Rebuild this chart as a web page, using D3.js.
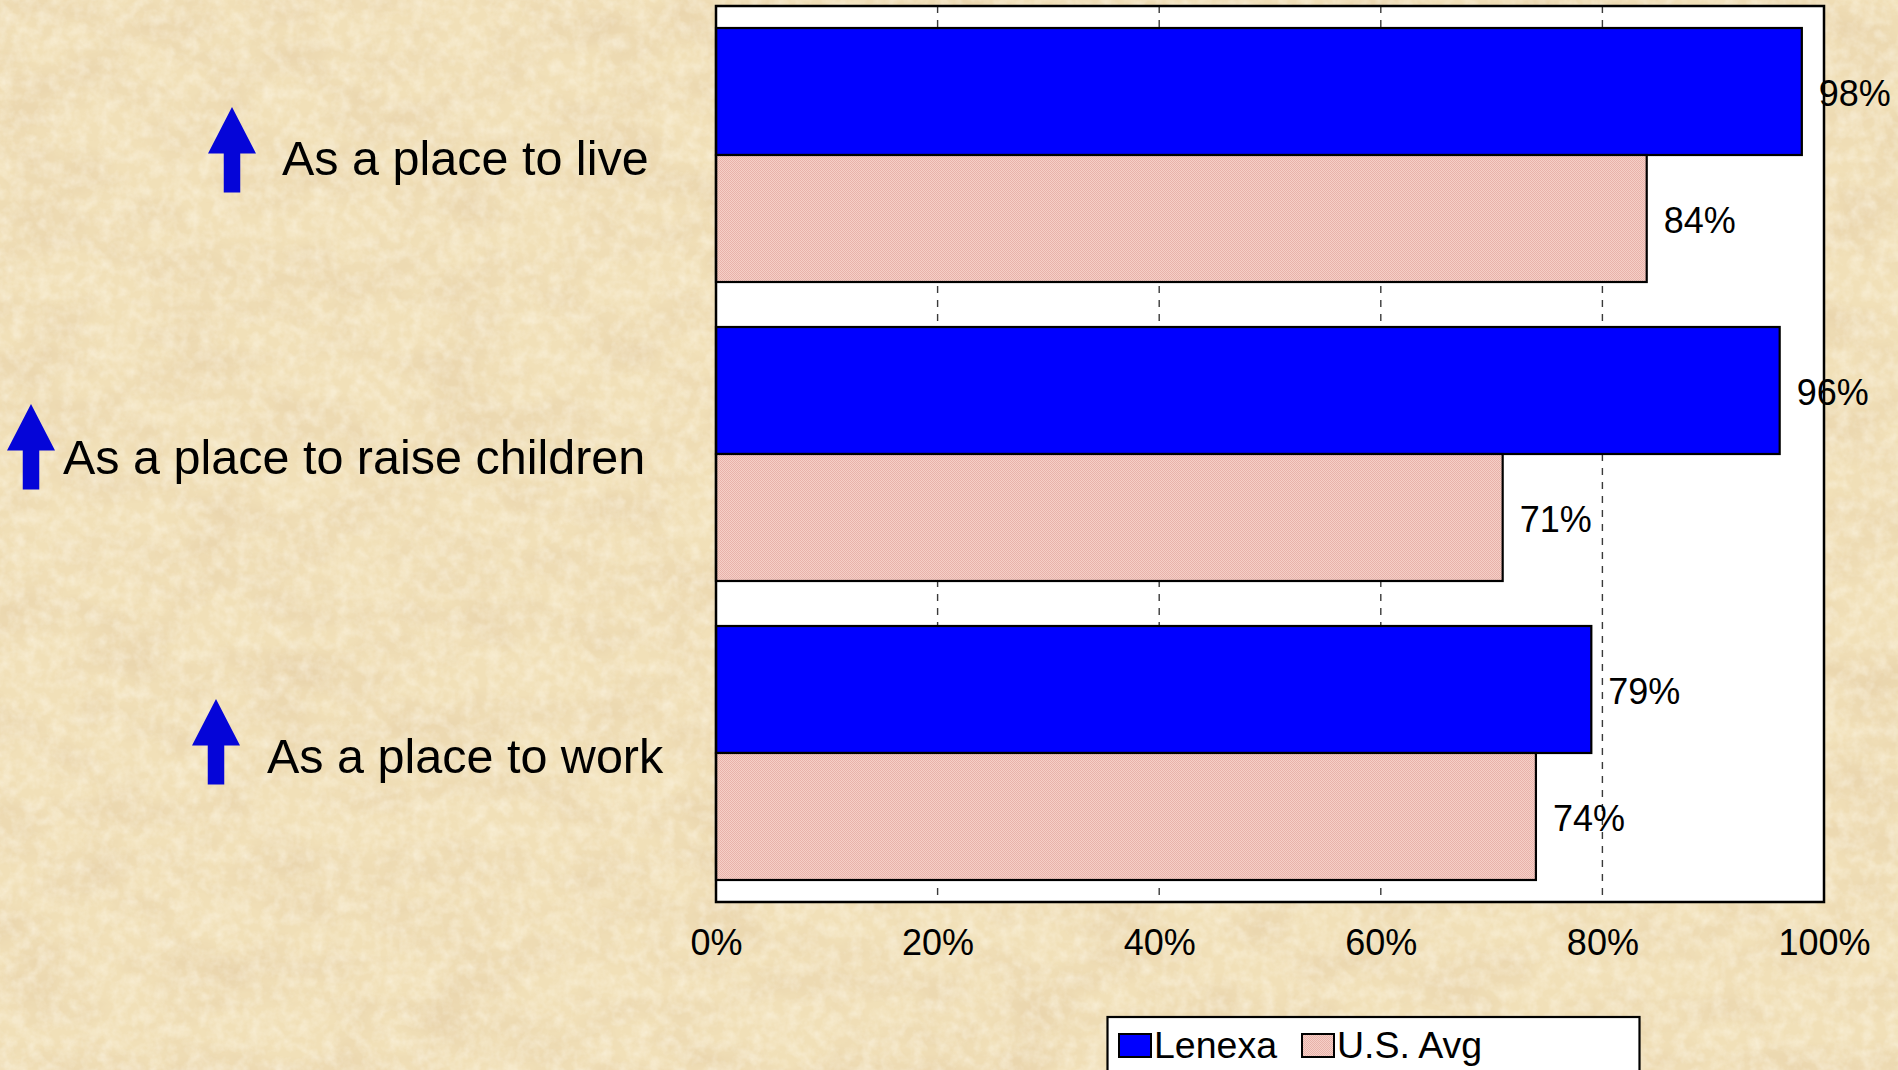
<!DOCTYPE html>
<html>
<head>
<meta charset="utf-8">
<script src="https://cdn.jsdelivr.net/npm/d3@7"></script>
<style>
  html, body { margin: 0; padding: 0; background: #EEDCB3; overflow: hidden; }
  svg { display: block; }
  text { font-family: "Liberation Sans", Arial, Helvetica, sans-serif; fill: #000; }
</style>
</head>
<body>
<svg id="chart" width="1898" height="1070"></svg>
<script>
// ---- data ----
const categories = ["As a place to live", "As a place to raise children", "As a place to work"];
const seriesNames = ["Lenexa", "U.S. Avg"];
const lenexaValues = [0.98, 0.96, 0.79];
const usAvgValues = [0.84, 0.71, 0.74];
const tickValues = [0, 0.2, 0.4, 0.6, 0.8, 1.0];
const tickLabels = ["0%", "20%", "40%", "60%", "80%", "100%"];
const gridValues = [0.2, 0.4, 0.6, 0.8];

// ---- layout ----
const W = 1898, H = 1070;
const plot = { x0: 716, x1: 1824, y0: 6, y1: 902 };
const catLayout = [
  { textX: 282, arrowX: 208, arrowDy: -48 },
  { textX: 63,  arrowX: 7,   arrowDy: -50 },
  { textX: 267, arrowX: 192, arrowDy: -54 }
];

const svg = d3.select("#chart");
const defs = svg.append("defs");

// parchment texture
const f = defs.append("filter").attr("id", "paper")
  .attr("x", 0).attr("y", 0).attr("width", "100%").attr("height", "100%")
  .attr("filterUnits", "userSpaceOnUse");
f.append("feTurbulence").attr("type", "fractalNoise")
  .attr("baseFrequency", "0.012 0.02").attr("numOctaves", 5).attr("seed", 7).attr("result", "n");
f.append("feColorMatrix").attr("in", "n").attr("type", "matrix")
  .attr("values", "0 0 0 0 0.80  0 0 0 0 0.64  0 0 0 0 0.40  1.6 0 0 0 -0.62");
const g2 = defs.append("filter").attr("id", "grain")
  .attr("x", 0).attr("y", 0).attr("width", "100%").attr("height", "100%")
  .attr("filterUnits", "userSpaceOnUse");
g2.append("feTurbulence").attr("type", "fractalNoise")
  .attr("baseFrequency", "0.08").attr("numOctaves", 3).attr("seed", 3).attr("result", "n");
g2.append("feColorMatrix").attr("in", "n").attr("type", "matrix")
  .attr("values", "0 0 0 0 1  0 0 0 0 0.97  0 0 0 0 0.88  1.4 0 0 0 -0.5");

// pink dotted fill
const pat = defs.append("pattern").attr("id", "pinkFill")
  .attr("patternUnits", "userSpaceOnUse").attr("width", 2).attr("height", 2);
pat.append("rect").attr("width", 2).attr("height", 2).attr("fill", "#F6D0C8");
pat.append("rect").attr("x", 0).attr("y", 0).attr("width", 1).attr("height", 1).attr("fill", "#E8B2AA");
pat.append("rect").attr("x", 1).attr("y", 1).attr("width", 1).attr("height", 1).attr("fill", "#E8B2AA");

svg.append("rect").attr("width", W).attr("height", H).attr("fill", "#F1E0B8");
svg.append("rect").attr("width", W).attr("height", H).attr("filter", "url(#paper)");
svg.append("rect").attr("width", W).attr("height", H).attr("filter", "url(#grain)").attr("opacity", 0.6);

// ---- scales ----
const x = d3.scaleLinear().domain([0, 1]).range([plot.x0, plot.x1]);
const y = d3.scaleBand().domain(categories).range([plot.y0, plot.y1])
  .paddingInner(0.1505).paddingOuter(0.0736);
const ys = d3.scaleBand().domain(seriesNames).range([0, y.bandwidth()]);
const fills = { "Lenexa": "#0000FF", "U.S. Avg": "url(#pinkFill)" };

const rows = [];
categories.forEach((c, i) => {
  rows.push({ cat: c, series: "Lenexa", value: lenexaValues[i] });
  rows.push({ cat: c, series: "U.S. Avg", value: usAvgValues[i] });
});

// plot background
svg.append("rect").attr("x", plot.x0).attr("y", plot.y0)
  .attr("width", plot.x1 - plot.x0).attr("height", plot.y1 - plot.y0).attr("fill", "#fff");

// gridlines
svg.append("g").selectAll("line").data(gridValues).join("line")
  .attr("x1", d => x(d)).attr("x2", d => x(d))
  .attr("y1", plot.y0).attr("y2", plot.y1)
  .attr("stroke", "#3a3a3a").attr("stroke-width", 1.4).attr("stroke-dasharray", "7,7");

// bars
svg.append("g").selectAll("rect").data(rows).join("rect")
  .attr("x", x(0))
  .attr("y", d => y(d.cat) + ys(d.series))
  .attr("width", d => x(d.value) - x(0))
  .attr("height", ys.bandwidth())
  .attr("fill", d => fills[d.series])
  .attr("stroke", "#000").attr("stroke-width", 2.2);

// frame
svg.append("rect").attr("x", plot.x0).attr("y", plot.y0)
  .attr("width", plot.x1 - plot.x0).attr("height", plot.y1 - plot.y0)
  .attr("fill", "none").attr("stroke", "#000").attr("stroke-width", 2.5);

// value labels
svg.append("g").selectAll("text").data(rows).join("text")
  .attr("x", d => x(d.value) + 17)
  .attr("y", d => y(d.cat) + ys(d.series) + ys.bandwidth() / 2 + 2)
  .attr("dy", "0.36em")
  .attr("font-size", 36)
  .text(d => Math.round(d.value * 100) + "%");

// x axis labels
const axis = d3.axisBottom(x).tickValues(tickValues)
  .tickFormat((d, i) => tickLabels[i]).tickSize(0).tickPadding(27);
const ax = svg.append("g").attr("transform", `translate(0,${plot.y1})`).call(axis);
ax.select(".domain").remove();
ax.selectAll("text").attr("font-size", 36)
  .attr("font-family", "'Liberation Sans', Arial, sans-serif").attr("fill", "#000");

// category labels + arrows
const arrowW = 48, headH = 46.5, shaftW = 16.5, arrowH = 85.6;
categories.forEach((c, i) => {
  const cy = y(c) + y.bandwidth() / 2;
  const L = catLayout[i];
  svg.append("text").attr("x", L.textX).attr("y", cy + 2.5).attr("dy", "0.36em")
    .attr("font-size", 48.5).text(c);
  const ax0 = L.arrowX, top = cy + L.arrowDy, cx = ax0 + arrowW / 2;
  const pts = [
    [cx, top], [ax0 + arrowW, top + headH], [cx + shaftW / 2, top + headH],
    [cx + shaftW / 2, top + arrowH], [cx - shaftW / 2, top + arrowH],
    [cx - shaftW / 2, top + headH], [ax0, top + headH]
  ];
  svg.append("path").attr("d", d3.line()(pts) + "Z").attr("fill", "#0505D8");
});

// legend
const lg = svg.append("g");
lg.append("rect").attr("x", 1107.5).attr("y", 1017).attr("width", 532).attr("height", 90)
  .attr("fill", "#fff").attr("stroke", "#000").attr("stroke-width", 2.2);
const legendItems = [
  { name: seriesNames[0], mx: 1119, tx: 1154 },
  { name: seriesNames[1], mx: 1302, tx: 1337 }
];
legendItems.forEach(it => {
  lg.append("rect").attr("x", it.mx).attr("y", 1034).attr("width", 32).attr("height", 23)
    .attr("fill", fills[it.name]).attr("stroke", "#000").attr("stroke-width", 2);
  lg.append("text").attr("x", it.tx).attr("y", 1058).attr("font-size", 37.5).text(it.name);
});
</script>
</body>
</html>
